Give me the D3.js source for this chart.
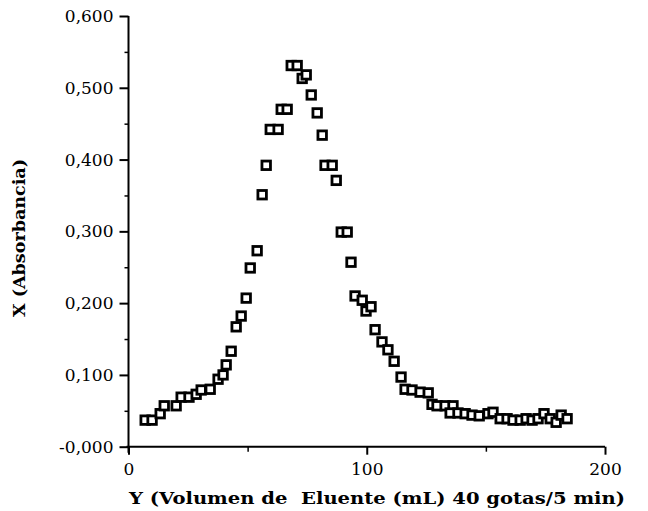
<!DOCTYPE html>
<html><head><meta charset="utf-8">
<script src="https://cdn.jsdelivr.net/npm/d3@7"></script>
<style>
html,body{margin:0;padding:0;background:#fff;}
svg{display:block;}
text{font-family:"DejaVu Serif","Liberation Serif",serif;fill:#000;}
</style></head>
<body>
<svg id="chart" width="648" height="511"></svg>
<script>
// ---- data ----
const volume = [7.0,9.9,13.3,15.0,20.0,22.1,25.4,28.4,30.5,34.3,37.6,39.7,41.0,43.1,45.2,47.3,49.4,51.1,54.0,56.1,57.8,59.5,62.8,64.1,66.6,68.3,70.8,72.9,74.6,76.7,79.2,81.3,82.5,85.5,87.2,89.3,91.8,93.4,95.1,98.1,99.7,101.8,103.5,106.4,108.9,111.5,114.4,116.1,119.0,122.4,125.8,127.4,129.5,132.9,136.2,135.0,138.3,141.3,144.2,147.2,150.9,153.0,156.0,158.9,161.4,164.4,166.9,169.4,171.9,174.4,177.0,179.5,181.6,184.1];
const absorbance = [0.037,0.037,0.046,0.057,0.057,0.069,0.069,0.073,0.079,0.080,0.094,0.100,0.114,0.133,0.167,0.182,0.207,0.249,0.273,0.351,0.392,0.442,0.442,0.470,0.470,0.531,0.531,0.513,0.518,0.490,0.465,0.434,0.392,0.392,0.371,0.299,0.299,0.257,0.210,0.204,0.189,0.195,0.163,0.146,0.135,0.119,0.097,0.080,0.079,0.076,0.075,0.059,0.057,0.057,0.057,0.047,0.047,0.046,0.044,0.043,0.046,0.048,0.039,0.039,0.037,0.037,0.039,0.037,0.039,0.046,0.039,0.034,0.044,0.039];
const yTickValues = [0,0.1,0.2,0.3,0.4,0.5,0.6];
const yTickLabels = ["-0,000","0,100","0,200","0,300","0,400","0,500","0,600"];
const yMinorValues = [0.05,0.15,0.25,0.35,0.45,0.55];
const xTickValues = [0,100,200];
const xTickLabels = ["0","100","200"];
const xMinorValues = [50,150];
const xTitle = "Y (Volumen de  Eluente (mL) 40 gotas/5 min)";
const yTitle = "X (Absorbancia)";

// ---- layout ----
const svg = d3.select("#chart");
const x = d3.scaleLinear().domain([0,200]).range([128.5,605]);
const y = d3.scaleLinear().domain([0,0.6]).range([446.7,16]);

// minor ticks
svg.append("g").attr("transform",`translate(${x(0)},0)`)
  .call(d3.axisLeft(y).tickValues(yMinorValues).tickSize(4).tickFormat(""))
  .call(g=>g.select(".domain").remove())
  .selectAll("line").attr("stroke","#000").attr("stroke-width",1.5);
svg.append("g").attr("transform",`translate(0,${y(0)})`)
  .call(d3.axisBottom(x).tickValues(xMinorValues).tickSize(5).tickFormat(""))
  .call(g=>g.select(".domain").remove())
  .selectAll("line").attr("stroke","#000").attr("stroke-width",1.5);

// y axis
const yAx = svg.append("g").attr("transform",`translate(${x(0)},0)`)
  .call(d3.axisLeft(y).tickValues(yTickValues).tickSize(9).tickPadding(6)
    .tickFormat((d,i)=>yTickLabels[i]));
yAx.select(".domain").attr("d",`M0,${y(0)+6}V${y(0.6)}`).attr("stroke","#000").attr("stroke-width",2);
yAx.selectAll("line").attr("stroke","#000").attr("stroke-width",2);
yAx.selectAll("text").attr("font-size",17).attr("font-family","DejaVu Serif, serif").attr("dy","0.33em");

// x axis
const xAx = svg.append("g").attr("transform",`translate(0,${y(0)})`)
  .call(d3.axisBottom(x).tickValues(xTickValues).tickSize(8).tickPadding(8)
    .tickFormat((d,i)=>xTickLabels[i]));
xAx.select(".domain").attr("d",`M${x(0)-2},0H${x(200)}`).attr("stroke","#000").attr("stroke-width",2);
xAx.selectAll("line").attr("stroke","#000").attr("stroke-width",2);
xAx.selectAll("text").attr("font-size",17).attr("font-family","DejaVu Serif, serif");

// titles
svg.append("text").attr("x",377).attr("y",504).attr("text-anchor","middle")
  .attr("font-size",17).attr("font-weight","bold").style("white-space","pre")
  .attr("textLength",496).attr("lengthAdjust","spacingAndGlyphs").text(xTitle);
svg.append("text").attr("transform",`translate(25,238) rotate(-90)`).attr("text-anchor","middle")
  .attr("font-size",16).attr("font-weight","bold")
  .attr("textLength",158).attr("lengthAdjust","spacingAndGlyphs").text(yTitle);

// markers
const s = 8.5;
svg.append("g").selectAll("rect").data(volume.map((v,i)=>[v,absorbance[i]])).join("rect")
  .attr("x",d=>x(d[0])-s/2).attr("y",d=>y(d[1])-s/2).attr("width",s).attr("height",s)
  .attr("fill","#fff").attr("stroke","#000").attr("stroke-width",2.8);
</script>
</body></html>
